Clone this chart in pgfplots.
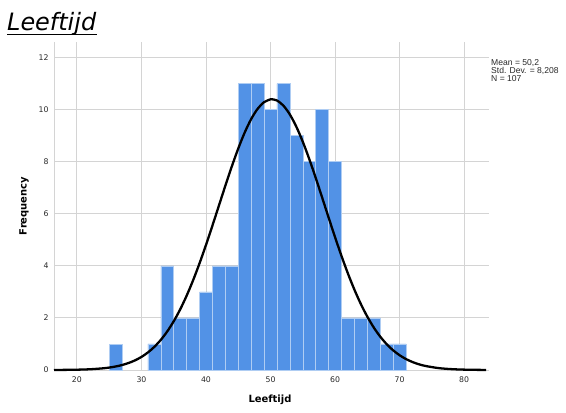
\documentclass[border=0pt]{standalone}
\usepackage{pgfplots}
\pgfplotsset{compat=1.18}
\usepackage{fontspec}
\setmainfont{DejaVu Sans}
\newfontfamily\legfont{Liberation Sans}
\definecolor{barblue}{RGB}{82,146,230}
\definecolor{baredge}{RGB}{175,205,243}
\definecolor{gridgray}{RGB}{212,212,212}
\definecolor{txt}{RGB}{40,40,40}
\begin{document}
\begin{tikzpicture}[x=1bp,y=1bp]
\useasboundingbox (0,0) rectangle (566,412);
\begin{axis}[
  at={(54bp,42bp)}, anchor=south west,
  scale only axis, width=435bp, height=328bp,
  xmin=16.45, xmax=83.85, ymin=0, ymax=12.6,
  xtick={20,30,...,80}, ytick={0,2,...,12},
  grid=major, major grid style={gridgray, line width=0.9pt},
  axis x line*=bottom, axis y line*=left,
  axis line style={gridgray, line width=0.9pt},
  x axis line style={-}, y axis line style={-},
  major tick length=0pt,
  /pgf/number format/assume math mode=true,
  tick label style={font=\fontsize{7.8}{9}\selectfont, text=txt},
  xticklabel style={yshift=-3bp},
  yticklabel style={xshift=-2bp},
  clip=false,
]
\addplot[ybar interval, fill=barblue, draw=baredge, line width=0.6pt] coordinates {
(25,1) (27,1)
};
\addplot[ybar interval, fill=barblue, draw=baredge, line width=0.6pt] coordinates {
(31,1) (33,4) (35,2) (37,2) (39,3) (41,4) (43,4) (45,11) (47,11) (49,10)
(51,11) (53,9) (55,8) (57,10) (59,8) (61,2) (63,2) (65,2) (67,1) (69,1) (71,1)
};
\addplot[black, line width=2.3pt, smooth] coordinates {
(16.45,0.0016) (18,0.0047) (20,0.012) (22,0.0284) (24,0.0638) (25,0.0934)
(26,0.1348) (27,0.1916) (28,0.2682) (29,0.3702) (30,0.5032) (31,0.6744)
(32,0.8902) (33,1.1577) (34,1.4833) (35,1.8724) (36,2.3288) (37,2.8540)
(38,3.4465) (39,4.1000) (40,4.8053) (41,5.5500) (42,6.3149) (43,7.0797)
(44,7.8199) (45,8.5099) (46,9.1248) (47,9.6399) (48,10.034) (49,10.290)
(50,10.398) (50.2,10.401) (51,10.352) (52,10.154) (53,9.813) (54,9.344)
(55,8.766) (56,8.103) (57,7.380) (58,6.622) (59,5.854) (60,5.099)
(61,4.376) (62,3.700) (63,3.083) (64,2.531) (65,2.047) (66,1.631)
(67,1.280) (68,0.9907) (69,0.7550) (70,0.5669) (71,0.4194) (72,0.3057)
(73,0.2196) (74,0.1554) (76,0.0744) (78,0.0336) (80,0.0143) (82,0.0057)
(83.4,0.0025)
};
\end{axis}
\node[anchor=base west, inner sep=0pt] at (7,382)
  {\fontsize{24}{28}\selectfont\textit{Leeftijd}};
\draw[line width=1.6bp] (7,377.5) -- (97,377.5);
\node[inner sep=0pt, font=\fontsize{10}{12}\selectfont\bfseries] at (270,12) {Leeftijd};
\node[inner sep=0pt, rotate=90, font=\fontsize{10}{12}\selectfont\bfseries] at (24,206) {Frequency};
\node[anchor=base west, inner sep=0pt, align=left, text=txt,
  font=\legfont\fontsize{8.6}{8}\selectfont] at (491,331)
  {Mean = 50,2\\Std. Dev. = 8,208\\N = 107};
\end{tikzpicture}
\end{document}
